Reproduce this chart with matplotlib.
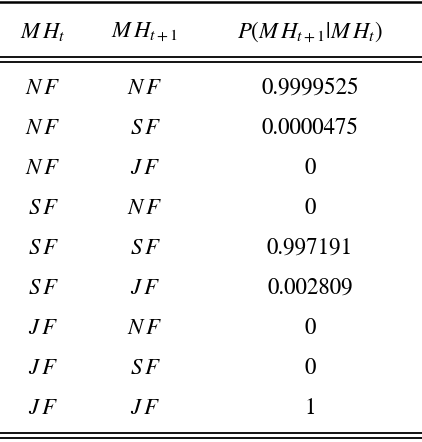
import matplotlib
matplotlib.use("Agg")
import matplotlib.pyplot as plt

plt.rcParams['mathtext.fontset'] = 'stix'
plt.rcParams['font.family'] = 'STIXGeneral'

# table contents
headers = [r"$M\,H_t$", r"$M\,H_{t+1}$", r"$P(M\,H_{t+1}|M\,H_t)$"]
mh_t = ["NF", "NF", "NF", "SF", "SF", "SF", "JF", "JF", "JF"]
mh_next = ["NF", "SF", "JF", "NF", "SF", "JF", "NF", "SF", "JF"]
probs = ["0.9999525", "0.0000475", "0", "0", "0.997191", "0.002809", "0", "0", "1"]

fig = plt.figure(figsize=(4.22, 4.42), dpi=100)
ax = fig.add_axes([0, 0, 1, 1])
ax.set_xlim(0, 422)
ax.set_ylim(442, 0)
ax.axis("off")

col_x = [43, 145, 310]
fs = 16.5

for x, h in zip(col_x, headers):
    ax.text(x, 32, h, ha="center", va="center", fontsize=fs)

for i, (a, b, p) in enumerate(zip(mh_t, mh_next, probs)):
    y = 88 + 40 * i
    ax.text(col_x[0], y, f"${a[0]}\\,{a[1]}$", ha="center", va="center", fontsize=fs)
    ax.text(col_x[1], y, f"${b[0]}\\,{b[1]}$", ha="center", va="center", fontsize=fs)
    ax.text(col_x[2], y, p, ha="center", va="center", fontsize=fs)

lw = 1.3
ax.plot([0, 422], [2, 2], color="black", lw=1.8)
for y in (57, 62, 433, 438):
    ax.plot([0, 422], [y, y], color="black", lw=lw)

fig.savefig("out.png", dpi=100)
